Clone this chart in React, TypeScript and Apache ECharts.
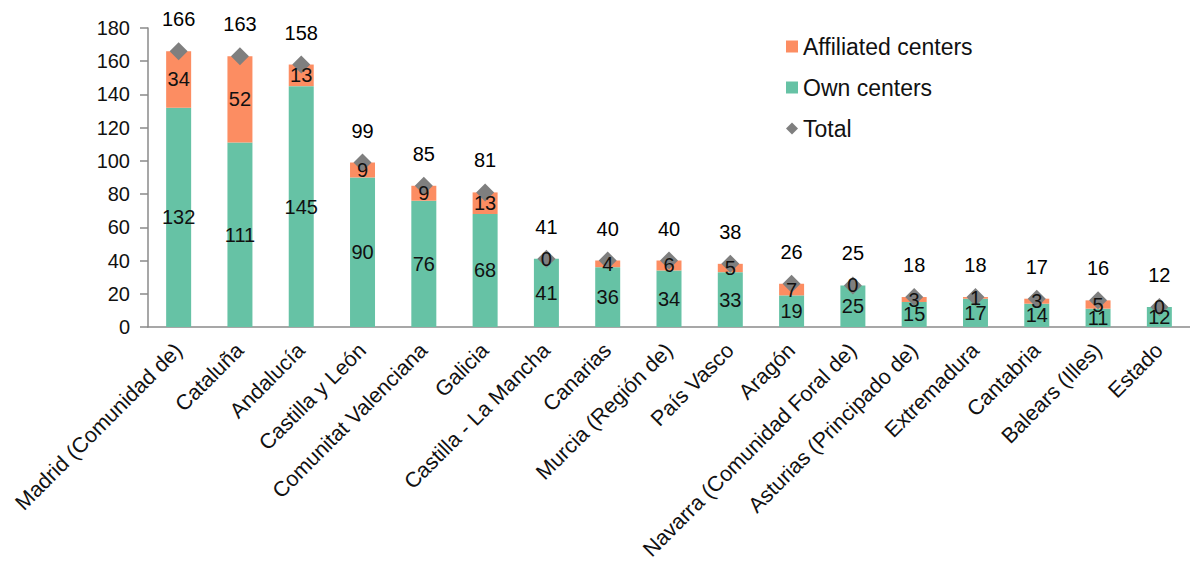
import React, { useEffect, useRef } from "react";
import * as echarts from "echarts";

const categories = [
  "Madrid (Comunidad de)",
  "Cataluña",
  "Andalucía",
  "Castilla y León",
  "Comunitat Valenciana",
  "Galicia",
  "Castilla - La Mancha",
  "Canarias",
  "Murcia (Región de)",
  "País Vasco",
  "Aragón",
  "Navarra (Comunidad Foral de)",
  "Asturias (Principado de)",
  "Extremadura",
  "Cantabria",
  "Balears (Illes)",
  "Estado",
];
const ownCenters = [132, 111, 145, 90, 76, 68, 41, 36, 34, 33, 19, 25, 15, 17, 14, 11, 12];
const affiliatedCenters = [34, 52, 13, 9, 9, 13, 0, 4, 6, 5, 7, 0, 3, 1, 3, 5, 0];
const totals = [166, 163, 158, 99, 85, 81, 41, 40, 40, 38, 26, 25, 18, 18, 17, 16, 12];

const FONT = "'Liberation Sans', Arial, sans-serif";
const TXT = "#111111";

export default function App() {
  const ref = useRef<HTMLDivElement>(null);
  useEffect(() => {
    document.body.style.margin = "0";
    const chart = echarts.init(ref.current!, null, { renderer: "svg" });
    const barLabel = { show: true, position: "inside", fontSize: 20, color: TXT, fontFamily: FONT };
    chart.setOption({
      animation: false,
      backgroundColor: "#ffffff",
      textStyle: { fontFamily: FONT },
      legend: {
        orient: "vertical",
        left: 781,
        top: 30,
        itemGap: 18,
        itemWidth: 12,
        itemHeight: 12,
        textStyle: { fontSize: 23, color: TXT, fontFamily: FONT },
        data: [
          { name: "Affiliated centers", icon: "rect" },
          { name: "Own centers", icon: "rect" },
          { name: "Total", icon: "diamond" },
        ],
      },
      grid: { left: 148, top: 28, width: 1049, height: 299, containLabel: false },
      xAxis: {
        type: "category",
        data: categories,
        axisLine: { lineStyle: { color: "#8a8a8a", width: 1.5 } },
        axisTick: { length: 7, lineStyle: { color: "#8a8a8a", width: 1.5 } },
        axisLabel: {
          rotate: 45,
          interval: 0,
          fontSize: 21.5,
          color: TXT,
          fontFamily: FONT,
          margin: 20,
        },
      },
      yAxis: {
        type: "value",
        min: 0,
        max: 180,
        interval: 20,
        splitLine: { show: false },
        axisLine: { show: true, lineStyle: { color: "#8a8a8a", width: 1.5 } },
        axisTick: { show: true, length: 8, lineStyle: { color: "#8a8a8a", width: 1.5 } },
        axisLabel: { fontSize: 20, color: TXT, fontFamily: FONT, margin: 18 },
      },
      series: [
        {
          name: "Own centers",
          type: "bar",
          stack: "c",
          barWidth: 25,
          data: ownCenters,
          itemStyle: { color: "#66C2A5" },
          z: 2,
        },
        {
          name: "Affiliated centers",
          type: "bar",
          stack: "c",
          barWidth: 25,
          data: affiliatedCenters,
          itemStyle: { color: "#FC8D62" },
          z: 2,
        },
        {
          name: "Total",
          type: "scatter",
          symbol: "diamond",
          symbolSize: 18,
          data: totals,
          itemStyle: { color: "#7f7f7f", opacity: 1 },
          label: {
            show: true,
            position: "top",
            distance: 13,
            fontSize: 20,
            color: "#000000",
            fontFamily: FONT,
          },
          z: 4,
        },
        {
          name: "ownLabels",
          type: "bar",
          stack: "g",
          barWidth: 25,
          barGap: "-100%",
          data: ownCenters,
          itemStyle: { color: "rgba(0,0,0,0)" },
          label: barLabel,
          silent: true,
          z: 6,
        },
        {
          name: "affLabels",
          type: "bar",
          stack: "g",
          barWidth: 25,
          barGap: "-100%",
          data: affiliatedCenters,
          itemStyle: { color: "rgba(0,0,0,0)" },
          label: barLabel,
          silent: true,
          z: 6,
        },
      ],
    });
    return () => chart.dispose();
  }, []);
  return <div ref={ref} style={{ width: 1190, height: 563 }} />;
}
